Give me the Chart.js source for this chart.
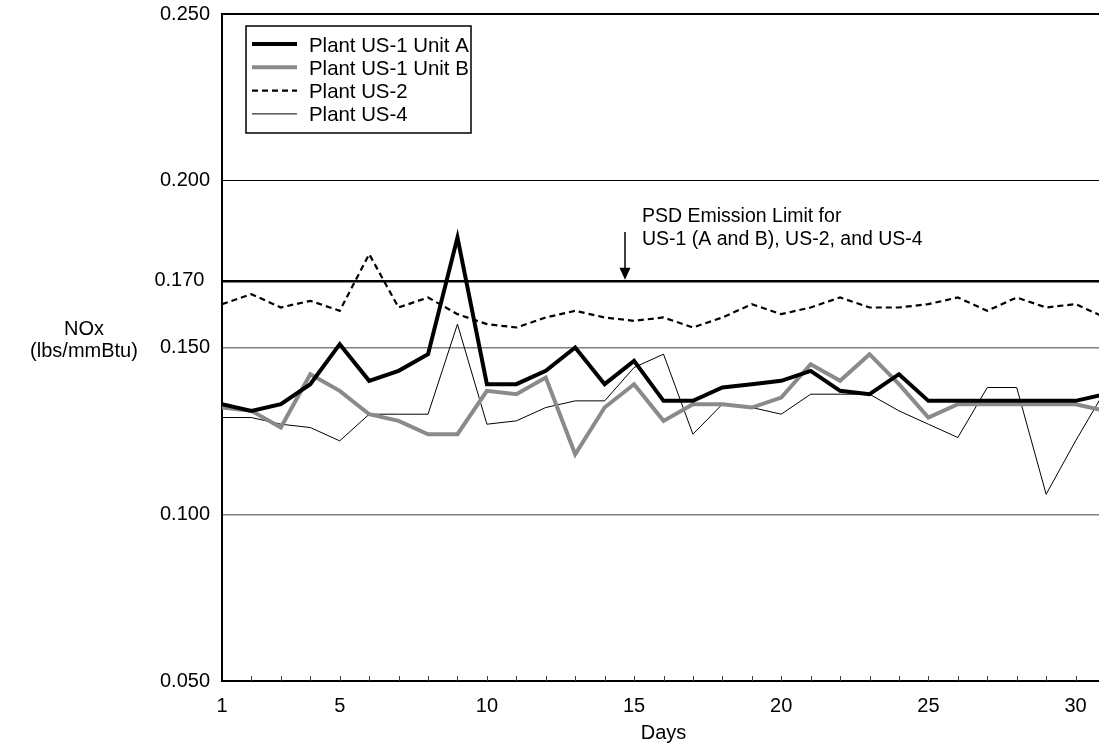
<!DOCTYPE html>
<html><head><meta charset="utf-8">
<script src="https://cdn.jsdelivr.net/npm/chart.js@4.4.1/dist/chart.umd.min.js"></script>
<style>html,body{margin:0;padding:0;overflow:hidden;background:#fff}#wrap{width:1110px;height:748px;overflow:hidden}</style>
</head><body><div id="wrap"><canvas id="c" width="1110" height="748"></canvas></div>
<script>
const days = [1,2,3,4,5,6,7,8,9,10,11,12,13,14,15,16,17,18,19,20,21,22,23,24,25,26,27,28,29,30,31];
const unitA = [0.133,0.131,0.133,0.139,0.151,0.140,0.143,0.148,0.183,0.139,0.139,0.143,0.150,0.139,0.146,0.134,0.134,0.138,0.139,0.140,0.143,0.137,0.136,0.142,0.134,0.134,0.134,0.134,0.134,0.134,0.136];
const unitB = [0.132,0.131,0.126,0.142,0.137,0.130,0.128,0.124,0.124,0.137,0.136,0.141,0.118,0.132,0.139,0.128,0.133,0.133,0.132,0.135,0.145,0.140,0.148,0.139,0.129,0.133,0.133,0.133,0.133,0.133,0.131];
const us2 = [0.163,0.166,0.162,0.164,0.161,0.178,0.162,0.165,0.160,0.157,0.156,0.159,0.161,0.159,0.158,0.159,0.156,0.159,0.163,0.160,0.162,0.165,0.162,0.162,0.163,0.165,0.161,0.165,0.162,0.163,0.159];
const us4 = [0.129,0.129,0.127,0.126,0.122,0.130,0.130,0.130,0.157,0.127,0.128,0.132,0.134,0.134,0.144,0.148,0.124,0.133,0.132,0.130,0.136,0.136,0.136,0.131,0.127,0.123,0.138,0.138,0.106,0.122,0.137];
const seriesNames = ['Plant US-1 Unit A','Plant US-1 Unit B','Plant US-2','Plant US-4'];
const yTicks = [0.05,0.1,0.15,0.17,0.2,0.25];
const xLabels = [1,5,10,15,20,25,30];
const limitValue = 0.17;
const limitArrowDay = 14.7;
const limitText = ['PSD Emission Limit for','US-1 (A and B), US-2, and US-4'];
const yTitle = ['NOx','(lbs/mmBtu)'];
const xTitle = 'Days';

const FONT = '"Liberation Sans", Arial, sans-serif';
const toXY = arr => days.map((d,i)=>({x:d,y:arr[i]}));

const extras = {
  id:'extras',
  afterDatasetsDraw(chart){
    const ctx = chart.ctx, xs = chart.scales.x, ys = chart.scales.y, ca = chart.chartArea;
    ctx.save();
    // inward tick marks on x axis
    ctx.strokeStyle = '#444'; ctx.lineWidth = 1;
    for (const d of days) {
      if (d === 1) continue;
      const px = Math.round(xs.getPixelForValue(d)) + 0.5;
      ctx.beginPath(); ctx.moveTo(px, ca.bottom); ctx.lineTo(px, ca.bottom - 5); ctx.stroke();
    }
    // arrow + annotation
    const ax = Math.round(xs.getPixelForValue(limitArrowDay));
    const tip = ys.getPixelForValue(limitValue) - 1;
    ctx.strokeStyle = '#000'; ctx.fillStyle = '#000'; ctx.lineWidth = 1.5;
    ctx.beginPath(); ctx.moveTo(ax, 232); ctx.lineTo(ax, tip - 10); ctx.stroke();
    ctx.beginPath(); ctx.moveTo(ax - 5.5, tip - 12); ctx.lineTo(ax + 5.5, tip - 12); ctx.lineTo(ax, tip); ctx.closePath(); ctx.fill();
    ctx.font = '19.5px ' + FONT; ctx.textAlign = 'left'; ctx.textBaseline = 'alphabetic';
    ctx.fillText(limitText[0], ax + 17, 221.5);
    ctx.fillText(limitText[1], ax + 17, 245);
    // y title
    ctx.font = '20px ' + FONT; ctx.textAlign = 'center'; ctx.textBaseline = 'middle';
    ctx.fillText(yTitle[0], 84, 329);
    ctx.fillText(yTitle[1], 84, 351);
    // legend
    const lx = 246, ly = 26, lw = 225, lh = 107;
    ctx.fillStyle = '#fff'; ctx.fillRect(lx, ly, lw, lh);
    ctx.strokeStyle = '#000'; ctx.lineWidth = 1.5; ctx.strokeRect(lx, ly, lw, lh);
    ctx.textAlign = 'left'; ctx.textBaseline = 'alphabetic'; ctx.font = '20.4px ' + FONT;
    chart.data.datasets.forEach((ds, i) => {
      const base = 51.5 + i * 23.3;
      const sy = base - 7.5;
      ctx.save();
      ctx.strokeStyle = ds.borderColor; ctx.lineWidth = ds.borderWidth;
      ctx.setLineDash(ds.borderDash || []);
      ctx.beginPath(); ctx.moveTo(252, sy); ctx.lineTo(297, sy); ctx.stroke();
      ctx.restore();
      ctx.fillStyle = '#000';
      ctx.fillText(ds.label, 309, base);
    });
    ctx.restore();
  }
};

new Chart(document.getElementById('c').getContext('2d'), {
  type:'line',
  data:{ datasets:[
    {label:seriesNames[0], data:toXY(unitA), borderColor:'#000000', borderWidth:4},
    {label:seriesNames[1], data:toXY(unitB), borderColor:'#8a8a8a', borderWidth:4},
    {label:seriesNames[2], data:toXY(us2), borderColor:'#000000', borderWidth:2.2, borderDash:[6,4]},
    {label:seriesNames[3], data:toXY(us4), borderColor:'#000000', borderWidth:1}
  ]},
  options:{
    responsive:false, animation:false, devicePixelRatio:1,
    layout:{padding:{left:0,top:14,right:5,bottom:0}},
    elements:{point:{radius:0}, line:{tension:0, fill:false}},
    plugins:{legend:{display:false}, tooltip:{enabled:false}},
    scales:{
      x:{type:'linear', min:1, max:31,
        afterFit(s){ s.height = 67; s.paddingLeft = 0; s.paddingRight = 0; },
        ticks:{stepSize:1, autoSkip:false, maxRotation:0, padding:5, color:'#000',
          font:{family:FONT, size:20},
          callback:v => xLabels.includes(v) ? String(v) : ''},
        grid:{display:false},
        border:{display:true, color:'#000', width:2},
        title:{display:true, text:xTitle, color:'#000', font:{family:FONT, size:20}, padding:{top:0,bottom:3}}
      },
      y:{type:'linear', min:0.05, max:0.25,
        afterFit(s){ s.width = 222; s.paddingTop = 0; s.paddingBottom = 0; },
        afterBuildTicks(s){ s.ticks = yTicks.map(v => ({value:v})); },
        ticks:{padding:12, color:'#000', font:{family:FONT, size:20},
          callback:v => v === 0.17 ? '0.170 ' : v.toFixed(3)},
        grid:{drawTicks:false,
          color:c => { const v = c.tick ? c.tick.value : null;
            if (v === 0.05) return 'rgba(0,0,0,0)';
            if (v === 0.17 || v === 0.2 || v === 0.25) return '#000';
            return '#808080'; },
          lineWidth:c => { const v = c.tick ? c.tick.value : null;
            if (v === 0.17) return 2.5; if (v === 0.25) return 2; if (v === 0.2) return 1; return 1.5; }
        },
        border:{display:true, color:'#000', width:2}
      }
    }
  },
  plugins:[extras]
});
</script>
</body></html>
